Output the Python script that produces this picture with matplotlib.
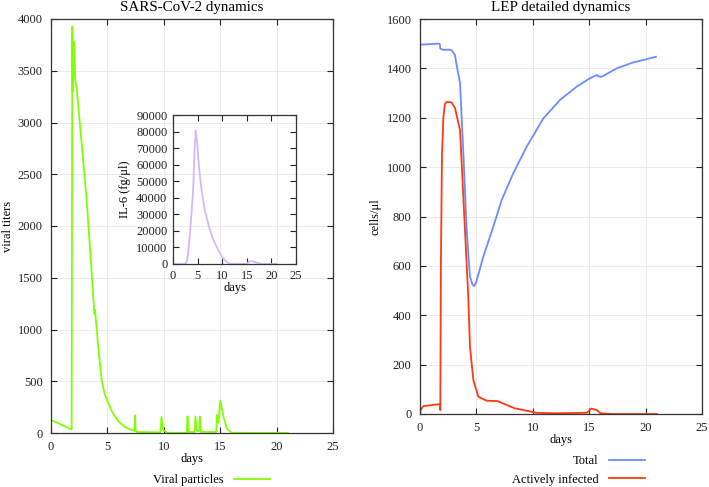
import matplotlib
matplotlib.use("Agg")
import matplotlib.pyplot as plt

plt.rcParams['font.family'] = ['Liberation Serif', 'DejaVu Serif']
plt.rcParams['font.size'] = 9

# viral particles (left panel)
vir_t = [0, 0.35, 1.77, 1.83, 1.89, 1.93, 2.04, 2.15, 2.28, 2.7, 3.16, 3.5, 3.82, 3.86,
         3.9, 4.05, 4.25, 4.49, 4.75, 5.08, 5.4, 5.67, 6.1, 6.56, 7.0, 7.4, 7.45, 7.5,
         7.6, 9.7, 9.8, 9.95, 10.3, 12.05, 12.1, 12.2, 12.75, 12.8, 12.95, 13.15, 13.2,
         13.3, 14.65, 14.7, 14.85, 15.0, 15.3, 15.6, 16.0, 21.0]
vir_y = [125, 110, 36, 36, 3926, 3298, 3780, 3400, 3330, 2820, 2252, 1720, 1200, 1150,
         1190, 1000, 760, 513, 380, 290, 210, 158, 100, 61, 35, 20, 170, 20,
         10, 5, 155, 30, 2, 2, 160, 10, 10, 160, 20, 20, 160,
         10, 10, 175, 100, 315, 150, 40, 2, 0]

# IL-6 (inset)
il6_t = [0, 2.5, 2.8, 3.06, 3.5, 4.1, 4.4, 4.6, 4.9, 5.3, 5.8, 6.5, 7.5, 8.3, 9.2,
         10.0, 10.9, 11.6, 15.0, 15.5, 16.0, 17.0, 18.0, 21.0]
il6_y = [0, 0, 1500, 6000, 20000, 45000, 70000, 80700, 74000, 58000, 44600, 32000, 20500,
         14000, 8400, 4200, 1400, 0, 0, 1500, 1800, 800, 0, 0]

# LEP dynamics (right panel)
tot_t = [0, 1.6, 1.75, 1.8, 2.06, 2.5, 2.8, 3.1, 3.3, 3.55, 3.85, 4.14, 4.43, 4.65,
         4.79, 4.95, 5.2, 5.61, 6.5, 7.24, 8.27, 9.46, 10.93, 12.41, 13.89, 15.07,
         15.66, 15.8, 16.1, 17.44, 18.9, 20.92]
tot_y = [1496, 1500, 1499, 1480, 1475, 1476, 1474, 1454, 1400, 1340, 1050, 745, 556, 525,
         518, 530, 570, 637, 759, 867, 975, 1083, 1197, 1272, 1326, 1360,
         1373, 1368, 1366, 1400, 1424, 1447]

inf_t = [0, 0.05, 0.3, 1.0, 1.77, 1.8, 1.85, 1.95, 2.07, 2.2, 2.36, 2.8, 3.1, 3.3,
         3.55, 4.28, 4.43, 4.73, 5.17, 5.9, 6.9, 7.5, 8.4, 9.6, 10.3, 12.0,
         14.8, 15.2, 15.7, 16.0, 17.0, 21.0]
inf_y = [0, 16, 32, 36, 40, 16, 600, 1050, 1200, 1255, 1264, 1262, 1240, 1200,
         1150, 475, 272, 138, 70, 54, 52, 40, 23, 12, 5, 3,
         5, 22, 15, 3, 0, 0]

W, H = 709, 487
fig = plt.figure(figsize=(W / 100, H / 100), dpi=100)


def box(l, t, r, b):
    return [l / W, 1 - b / H, (r - l) / W, (b - t) / H]


def style(ax, grid=True):
    ax.tick_params(direction='in', top=True, right=True, length=4, width=0.8,
                   colors='#222222', labelcolor='#222222', pad=6)
    for s in ax.spines.values():
        s.set_color('#333333')
        s.set_linewidth(0.9)
    if grid:
        ax.grid(True, color='#ebebeb', lw=0.7)
        ax.set_axisbelow(True)


ax1 = fig.add_axes(box(51, 19, 333, 433))
ax1.plot(vir_t, vir_y, color='#80ff00', lw=1.3, label='Viral particles')
ax1.set_xlim(0, 25)
ax1.set_ylim(0, 4000)
ax1.set_xticks(range(0, 26, 5))
ax1.set_yticks(range(0, 4001, 500))
ax1.set_xlabel('days', labelpad=0)
ax1.set_ylabel('viral titers', labelpad=3)
ax1.set_title('SARS-CoV-2 dynamics', pad=6)
style(ax1)
ax1.legend(loc='center right', bbox_to_anchor=(270 / W, 1 - 480 / H),
           bbox_transform=fig.transFigure, frameon=False, markerfirst=False,
           handlelength=2.9, borderpad=0, borderaxespad=0, handletextpad=0.8)

axi = fig.add_axes(box(173, 115, 296, 264))
axi.patch.set_alpha(0)
axi.plot(il6_t, il6_y, color='#d2b9ff', lw=1.3)
axi.set_xlim(0, 25)
axi.set_ylim(0, 90000)
axi.set_xticks(range(0, 26, 5))
axi.set_yticks(range(0, 90001, 10000))
axi.set_xlabel('days', labelpad=0)
axi.set_ylabel('IL-6 (fg/μl)', labelpad=4)
style(axi, grid=False)
axi.tick_params(pad=4)

ax2 = fig.add_axes(box(420, 19, 702, 414))
ax2.plot(tot_t, tot_y, color='#6b8cff', lw=1.3, label='Total')
ax2.plot(inf_t, inf_y, color='#ff3a12', lw=1.3, label='Actively infected')
ax2.set_xlim(0, 25)
ax2.set_ylim(0, 1600)
ax2.set_xticks(range(0, 26, 5))
ax2.set_yticks(range(0, 1601, 200))
ax2.set_xlabel('days', labelpad=0)
ax2.set_ylabel('cells/μl', labelpad=4)
ax2.set_title('LEP detailed dynamics', pad=6)
style(ax2)
ax2.legend(loc='center right', bbox_to_anchor=(645 / W, 1 - 470.5 / H),
           bbox_transform=fig.transFigure, frameon=False, markerfirst=False,
           handlelength=2.9, borderpad=0, borderaxespad=0, handletextpad=0.8,
           labelspacing=0.5)

fig.savefig('out.png', dpi=100)
